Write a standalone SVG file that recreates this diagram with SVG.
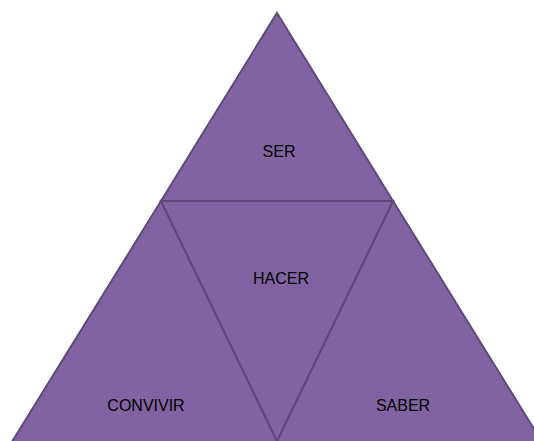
<svg xmlns="http://www.w3.org/2000/svg" width="534" height="441" viewBox="0 0 534 441">
<style>
.tri{fill:#8064A2;stroke:#5E4A7A;stroke-width:2;stroke-linejoin:miter}
.lbl{font-family:"Liberation Sans",Arial,sans-serif;font-size:16px;fill:#000;text-anchor:middle}
</style>
<rect width="534" height="441" fill="#fff"/>
<g id="SER">
<polygon class="tri" points="277,13 393,201 161,201"/>
<text class="lbl" x="279" y="157">SER</text>
</g>
<g id="CONVIVIR">
<polygon class="tri" points="161,201 277,441 277,445 10,445"/>
<text class="lbl" x="146" y="411">CONVIVIR</text>
</g>
<g id="SABER">
<polygon class="tri" points="393,201 544,445 277,445 277,441"/>
<text class="lbl" x="403" y="411">SABER</text>
</g>
<g id="HACER">
<polygon class="tri" points="161,201 393,201 277,441"/>
<text class="lbl" x="281" y="284">HACER</text>
</g>
<g id="connectors"></g>
</svg>
